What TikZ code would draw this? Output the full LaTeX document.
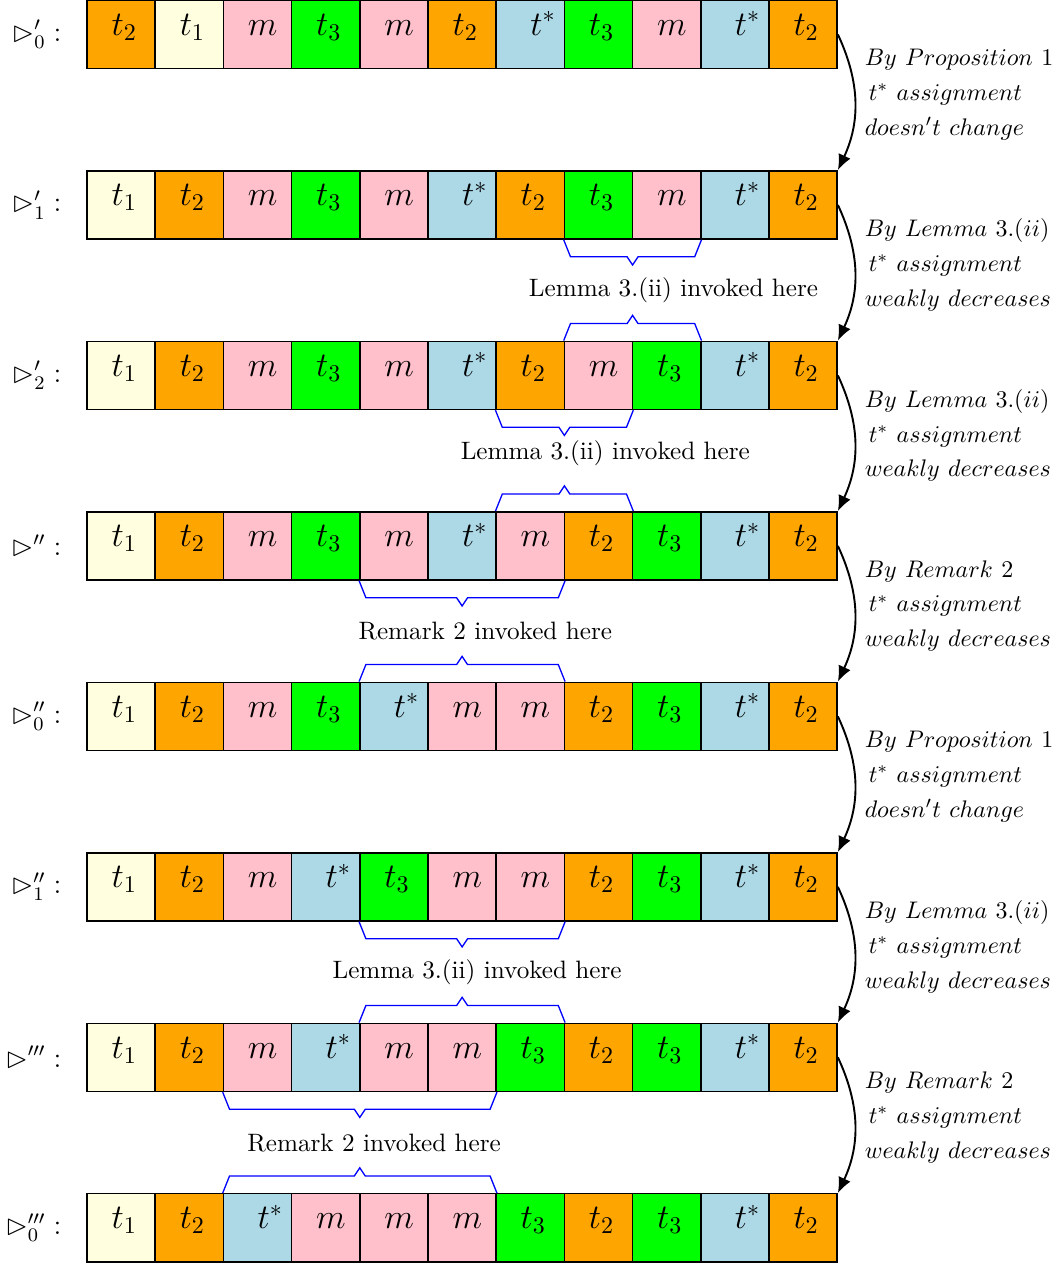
\documentclass[tikz,border=0pt]{standalone}
\usepackage{amssymb}
\usepackage{amsmath}
\usetikzlibrary{positioning,calc,arrows.meta}

\definecolor{cOrange}{RGB}{255,165,0}
\definecolor{cYellow}{RGB}{255,255,224}
\definecolor{cPink}{RGB}{255,192,203}
\definecolor{cGreen}{RGB}{0,255,0}
\definecolor{cBlue}{RGB}{173,216,230}

% cell contents
\newcommand{\labtone}{t_1}
\newcommand{\labttwo}{t_2}
\newcommand{\labtthree}{t_3}
\newcommand{\labtstar}{\;t^*}
\newcommand{\labmval}{m}

\tikzset{
  cell/.style={draw, semithick, minimum height=1cm, text width=1cm, inner xsep=0pt,
    inner ysep=0pt, align=left, text height=0.26cm, text depth=0.24cm, font=\Large},
  tone/.style={fill=cYellow},
  ttwo/.style={fill=cOrange},
  tthree/.style={fill=cGreen},
  tstar/.style={fill=cBlue},
  mval/.style={fill=cPink},
  rowlab/.style={inner sep=0.333em, font=\large},
  stepar/.style={thick, -{Latex[length=6.5pt,width=5.5pt]}},
  note/.style={anchor=west, align=left, font=\fontsize{10.4}{12.5}\selectfont},
  invk/.style={inner sep=1pt, font=\fontsize{10.5}{12.5}\selectfont},
  brc/.style={blue, line width=0.55pt}
}

% one row of cells
\newcommand{\tape}[2]{%
  \foreach \k [count=\j] in {#2}
    \node[cell, \k] (r#1c\j) at (\j-0.5, -2.5*#1) {\hspace*{0.36cm}$\csname lab\k\endcsname$};}

% braces below / above a run of cells
\newcommand{\dnbrace}[2]{%
  \coordinate (#1m) at ($(#1.south west)!0.5!(#2.south east)$);
  \draw[brc] (#1.south west) -- ++(0.1,-0.25) -- ($(#1m)+(-0.08,-0.25)$) -- ++(0.08,-0.12)
    -- ++(0.08,0.12) -- ($(#2.south east)+(-0.1,-0.25)$) -- (#2.south east);}
\newcommand{\upbrace}[2]{%
  \coordinate (#1m) at ($(#1.north west)!0.5!(#2.north east)$);
  \draw[brc] (#1.north west) -- ++(0.1,0.25) -- ($(#1m)+(-0.08,0.25)$) -- ++(0.08,0.12)
    -- ++(0.08,-0.12) -- ($(#2.north east)+(-0.1,0.25)$) -- (#2.north east);}

\begin{document}
\begin{tikzpicture}
\useasboundingbox (-1.276,-18.03) rectangle (14.286,0.505);

% rows
\tape{0}{ttwo,tone,mval,tthree,mval,ttwo,tstar,tthree,mval,tstar,ttwo}
\tape{1}{tone,ttwo,mval,tthree,mval,tstar,ttwo,tthree,mval,tstar,ttwo}
\tape{2}{tone,ttwo,mval,tthree,mval,tstar,ttwo,mval,tthree,tstar,ttwo}
\tape{3}{tone,ttwo,mval,tthree,mval,tstar,mval,ttwo,tthree,tstar,ttwo}
\tape{4}{tone,ttwo,mval,tthree,tstar,mval,mval,ttwo,tthree,tstar,ttwo}
\tape{5}{tone,ttwo,mval,tstar,tthree,mval,mval,ttwo,tthree,tstar,ttwo}
\tape{6}{tone,ttwo,mval,tstar,mval,mval,tthree,ttwo,tthree,tstar,ttwo}
\tape{7}{tone,ttwo,tstar,mval,mval,mval,tthree,ttwo,tthree,tstar,ttwo}

% row names
\node[rowlab, left=0.24cm of r0c1] (l0) {$\rhd'_0 :$};
\node[rowlab, left=0.24cm of r1c1] (l1) {$\rhd'_1 :$};
\node[rowlab, left=0.24cm of r2c1] (l2) {$\rhd'_2 :$};
\node[rowlab, left=0.24cm of r3c1] (l3) {$\rhd'' :$};
\node[rowlab, left=0.24cm of r4c1] (l4) {$\rhd''_0 :$};
\node[rowlab, left=0.24cm of r5c1] (l5) {$\rhd''_1 :$};
\node[rowlab, left=0.24cm of r6c1] (l6) {$\rhd''' :$};
\node[rowlab, left=0.24cm of r7c1] (l7) {$\rhd'''_0 :$};

% steps
\foreach \i/\src/\eff in {0/Proposition\ 1/doesn't\ change,
    1/Lemma\ 3.(ii)/weakly\ decreases, 2/Lemma\ 3.(ii)/weakly\ decreases,
    3/Remark\ 2/weakly\ decreases, 4/Proposition\ 1/doesn't\ change,
    5/Lemma\ 3.(ii)/weakly\ decreases, 6/Remark\ 2/weakly\ decreases}{
  \pgfmathtruncatemacro{\nx}{\i+1}
  \draw[stepar] (r\i c11.east) to[bend left=25] (r\nx c11.north east);
  \node[note] (n\i) at ($(r\i c11.east)+(0.27,-0.88)$)
    {$By\ \src$\\[2.0pt] $\,t^*\ assignment$\\[2.0pt] $\eff$};
}

% where the results are used
\dnbrace{r1c8}{r1c9}
\upbrace{r2c8}{r2c9}
\node[invk] (u1) at (8.6,-3.75) {Lemma 3.(ii) invoked here};
\dnbrace{r2c7}{r2c8}
\upbrace{r3c7}{r3c8}
\node[invk] (u2) at (7.6,-6.14) {Lemma 3.(ii) invoked here};
\dnbrace{r3c5}{r3c7}
\upbrace{r4c5}{r4c7}
\node[invk] (u3) at (5.84,-8.755) {Remark 2 invoked here};
\dnbrace{r5c5}{r5c7}
\upbrace{r6c5}{r6c7}
\node[invk] (u5) at (5.72,-13.756) {Lemma 3.(ii) invoked here};
\dnbrace{r6c3}{r6c6}
\upbrace{r7c3}{r7c6}
\node[invk] (u6) at (4.21,-16.26) {Remark 2 invoked here};

\end{tikzpicture}
\end{document}
